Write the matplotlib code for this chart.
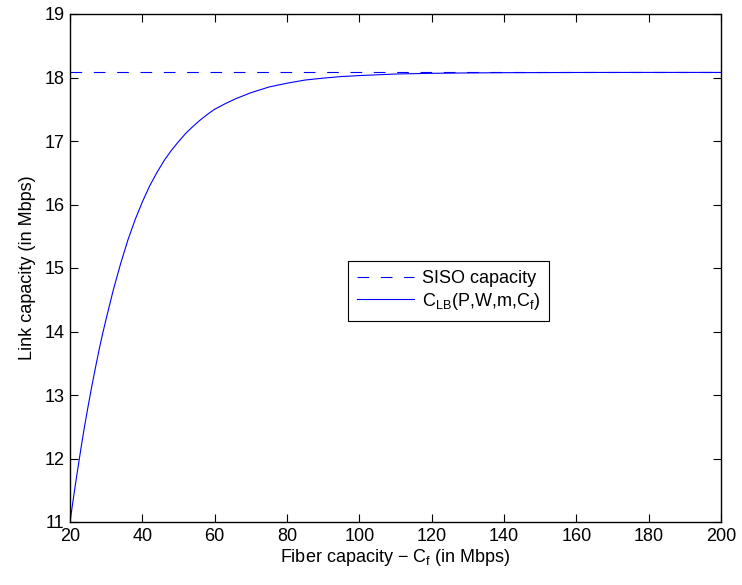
import matplotlib
matplotlib.use("Agg")
import matplotlib.pyplot as plt

plt.rcParams['font.family'] = ['Liberation Sans', 'DejaVu Sans']
plt.rcParams['mathtext.fontset'] = 'custom'
plt.rcParams['mathtext.rm'] = 'Liberation Sans'
plt.rcParams['mathtext.it'] = 'Liberation Sans'

# values
fiber_cap = [20, 21, 22, 23, 24, 25, 26, 27, 28, 29, 30, 32, 34, 36, 38, 40,
             42, 44, 46, 48, 50, 52, 54, 56, 58, 60, 63, 66, 70, 75, 80, 85,
             90, 95, 100, 110, 120, 130, 140, 160, 180, 200]
link_cap = [11.00, 11.40, 11.78, 12.15, 12.50, 12.82, 13.13, 13.42, 13.70, 13.96,
            14.20, 14.66, 15.07, 15.44, 15.76, 16.04, 16.29, 16.50, 16.69, 16.85,
            16.99, 17.12, 17.23, 17.33, 17.42, 17.50, 17.59, 17.67, 17.76, 17.85,
            17.91, 17.96, 17.99, 18.015, 18.03, 18.055, 18.066, 18.072, 18.076,
            18.079, 18.08, 18.08]
siso_cap = 18.08

xticks = [20, 40, 60, 80, 100, 120, 140, 160, 180, 200]
yticks = [11, 12, 13, 14, 15, 16, 17, 18, 19]

fig = plt.figure(figsize=(7.42, 5.85), dpi=100)
ax = fig.add_axes([70 / 742, 1 - 522 / 585, 651 / 742, 508 / 585])

ax.plot([fiber_cap[0], fiber_cap[-1]], [siso_cap, siso_cap], color='blue',
        lw=0.8, dashes=(10.5, 10.5), label='SISO capacity')
ax.plot(fiber_cap, link_cap, color='blue', lw=0.8,
        label=r'C$_{\rm LB}$(P,W,m,C$_{\rm f}$)')

ax.set_xlim(20, 200)
ax.set_ylim(11, 19)
ax.set_xticks(xticks)
ax.set_yticks(yticks)
ax.tick_params(direction='in', top=True, right=True, length=6, width=0.8,
               labelsize=13, pad=4)
for s in ax.spines.values():
    s.set_linewidth(1.0)

ax.set_xlabel(r'Fiber capacity $-$ C$_{\rm f}$ (in Mbps)', fontsize=13, labelpad=2)
ax.set_ylabel('Link capacity (in Mbps)', fontsize=13, labelpad=6)

leg = ax.legend(loc='center', bbox_to_anchor=(0.581, 0.455), fontsize=13,
                frameon=True, fancybox=False, handlelength=3.2,
                borderpad=0.5, labelspacing=0.2, handletextpad=0.4)
leg.get_frame().set_edgecolor('black')
leg.get_frame().set_linewidth(0.8)
leg.get_frame().set_alpha(1)

fig.savefig('out.png', dpi=100)
